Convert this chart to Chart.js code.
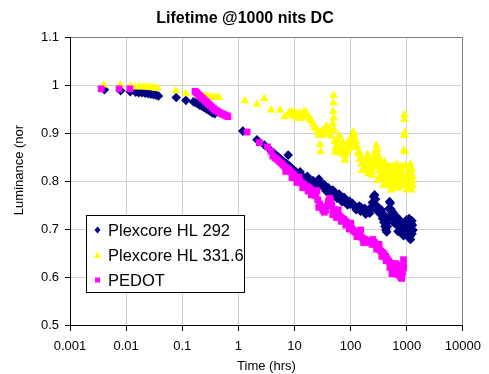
<!DOCTYPE html>
<html>
<head>
<meta charset="utf-8">
<script src="https://cdn.jsdelivr.net/npm/chart.js@4"></script>
<style>
html,body{margin:0;padding:0;background:#fff;}
#wrap{width:489px;height:374px;position:relative;}
</style>
</head>
<body>
<div id="wrap"><canvas id="c"></canvas></div>
<script>
const chartTitle = 'Lifetime @1000 nits DC';
const xAxisTitle = 'Time (hrs)';
const yAxisTitle = 'Luminance (nor';
const seriesNames = ['Plexcore HL 292', 'Plexcore HL 331.6', 'PEDOT'];
const seriesColors = ['#000080', '#FFFF00', '#FF00FF'];
const xTickValues = [0.001, 0.01, 0.1, 1, 10, 100, 1000, 10000];
const xTickLabels = ['0.001', '0.01', '0.1', '1', '10', '100', '1000', '10000'];
const yTickValues = [0.5, 0.6, 0.7, 0.8, 0.9, 1.0, 1.1];
const yTickLabels = ['0.5', '0.6', '0.7', '0.8', '0.9', '1', '1.1'];

// [time (hrs), normalized luminance]
const seriesHL292 = [
[0.0041,0.990],[0.0080,0.988],[0.0118,0.986],[0.0148,0.985],[0.0168,0.984],[0.0192,0.984],[0.0218,0.983],[0.0246,0.982],[0.0276,0.981],[0.0308,0.980],[0.0342,0.979],[0.0376,0.977],
[0.078,0.974],[0.116,0.968],
[0.158,0.965],[0.172,0.963],[0.188,0.961],[0.205,0.958],[0.224,0.956],[0.245,0.953],[0.268,0.950],[0.292,0.948],[0.318,0.945],[0.346,0.942],[0.378,0.940],
[1.20,0.904],[2.14,0.886],[2.90,0.875],[3.80,0.863],[4.25,0.858],[4.70,0.854],[5.15,0.850],[5.60,0.846],[6.10,0.842],[6.60,0.839],[7.15,0.836],[7.70,0.854],[7.75,0.833],[8.35,0.830],[9.0,0.826],[9.7,0.823],[10.4,0.820],[11.2,0.816],[12.1,0.814],[13.0,0.811],[14.0,0.809],[15.1,0.806],[16.3,0.804],[17.6,0.801],[19.0,0.798],[20.5,0.796],[22.1,0.794],[23.8,0.792],[25.6,0.797],[27.2,0.804],[28.8,0.796],[30.6,0.790],[32.9,0.787],[35.4,0.784],[38.1,0.781],[41.0,0.779],[44.1,0.776],[47.5,0.774],[51.1,0.777],[55.0,0.771],[59.2,0.768],[63.7,0.766],[68.6,0.763],[73.8,0.761],[79.4,0.758],[85.5,0.756],[92.0,0.753],[99.0,0.751],
[12.6,0.819],[16.9,0.810],[21.3,0.801],[33.5,0.793],[40.0,0.786],[48.0,0.781],[62.0,0.773],[76.0,0.766],[95.0,0.758],[14.5,0.803],[24.5,0.787],[36.5,0.779],[45.5,0.771],[57.0,0.764],[70.0,0.757],[88.0,0.750],
[106,0.754],[114,0.749],[123,0.746],[132,0.743],[142,0.748],[153,0.745],[165,0.740],[177,0.743],[190,0.738],[204,0.736],[218,0.733],[232,0.741],[244,0.755],[256,0.767],[267,0.771],[278,0.762],[289,0.749],[302,0.738],[318,0.734],[334,0.737],[352,0.730],[370,0.722],[390,0.714],[408,0.705],[424,0.698],[438,0.694],[452,0.705],[466,0.722],[480,0.742],[494,0.757],[508,0.754],[524,0.741],[543,0.731],[565,0.735],[590,0.728],[618,0.720],[648,0.712],[680,0.707],[712,0.715],[745,0.706],[778,0.699],[810,0.694],[842,0.689],[875,0.686],[905,0.694],[935,0.705],[965,0.713],[995,0.719],[1025,0.710],[1055,0.700],[1085,0.690],[1115,0.681],[1145,0.686],[1175,0.698],[1205,0.711],[1235,0.717],[1262,0.708],[1290,0.698],[1165,0.678],[1100,0.722],[1010,0.696],[950,0.688],[880,0.711],[445,0.713],[420,0.723],[600,0.712],[700,0.695],[1240,0.690],
[125,0.740],[150,0.737],[185,0.731],[215,0.742],[350,0.740],[380,0.732],[560,0.722],[640,0.727],[760,0.718],[850,0.702],[960,0.698],[1050,0.715]
];

const seriesHL3316 = [
[0.0040,1.000],[0.0078,1.000],[0.0120,0.998],[0.0148,0.996],[0.0172,0.997],[0.0198,0.996],[0.0226,0.996],[0.0256,0.995],[0.0288,0.995],[0.0322,0.994],[0.0360,0.993],
[0.077,0.988],[0.116,0.982],
[0.19,0.980],[0.215,0.979],[0.245,0.977],[0.275,0.976],[0.31,0.976],[0.35,0.975],[0.395,0.974],[0.45,0.974],
[1.31,0.967],[2.15,0.960],[2.90,0.972],[3.80,0.948],[5.50,0.948],[6.70,0.934],[8.0,0.942],[8.8,0.938],[9.0,0.945],[9.6,0.935],[10.0,0.941],[10.5,0.936],[11.0,0.940],[11.4,0.931],[12.3,0.941],[12.8,0.930],[13.4,0.937],[14.0,0.934],[14.5,0.943],[15.6,0.945],[16.2,0.940],[17.0,0.938],[18.5,0.932],[19.0,0.928],[20.0,0.925],[21.8,0.918],[22.5,0.912],[23.7,0.911],[25.8,0.905],[26.5,0.900],[27.5,0.895],[28.5,0.876],[29.2,0.861],[30.0,0.900],[31.0,0.905],[32.0,0.896],[34.2,0.905],[35.5,0.898],[36.8,0.914],[38.0,0.905],[39.6,0.909],[42.6,0.900],[44.0,0.905],[45.5,0.894],[48.0,0.920],[48.8,0.945],[49.4,0.963],[49.8,0.978],[50.2,0.931],[50.8,0.906],[51.5,0.882],[52.5,0.861],[53.5,0.870],[55.0,0.871],[57.0,0.859],[58.5,0.872],[60.0,0.885],[62.0,0.868],[63.0,0.895],[66.0,0.876],[68.0,0.862],[70.0,0.868],[72.0,0.880],[74.0,0.855],[76.0,0.860],[78.0,0.843],[80.0,0.852],[83.0,0.865],[86.0,0.858],[88.0,0.880],[90.0,0.865],[93.0,0.872],[95.0,0.876],[98.0,0.885],[100,0.870],
[104,0.893],[110,0.880],[112,0.902],[118,0.892],[120,0.870],[125,0.881],[132,0.870],[135,0.858],[140,0.861],[145,0.845],[150,0.852],[155,0.835],[160,0.845],[170,0.838],[175,0.826],[179,0.836],[185,0.830],[190,0.846],[195,0.822],[201,0.855],[210,0.828],[215,0.839],[225,0.845],[230,0.826],[235,0.818],[245,0.831],[250,0.842],[260,0.850],[265,0.830],[274,0.862],[280,0.845],[286,0.874],[295,0.835],[300,0.865],[315,0.852],[320,0.822],[331,0.841],[340,0.812],[350,0.830],[360,0.805],[370,0.820],[375,0.832],[390,0.811],[410,0.806],[420,0.798],[430,0.815],[440,0.830],[452,0.825],[470,0.800],[476,0.818],[490,0.830],[502,0.805],[515,0.795],[527,0.781],[540,0.815],[550,0.795],[570,0.800],[580,0.808],[600,0.812],[610,0.822],[630,0.800],[642,0.815],[650,0.825],[680,0.805],[700,0.815],[720,0.800],[740,0.795],[760,0.812],[780,0.830],[800,0.825],[820,0.800],[838,0.815],[850,0.790],[870,0.830],[880,0.805],[888,0.864],[898,0.895],[905,0.928],[910,0.938],[918,0.901],[930,0.795],[935,0.861],[958,0.831],[970,0.805],[988,0.812],[1020,0.800],[1052,0.790],[1060,0.812],[1090,0.786],[1120,0.808],[1130,0.795],[1170,0.806],[1180,0.790],[1210,0.815],[1230,0.825],[1248,0.800],[1265,0.810],[1273,0.790],[1000,0.782],[1100,0.822],[1200,0.781],[380,0.791],[460,0.790],[620,0.790],[700,0.785],[300,0.801],[205,0.815],[160,0.822],[240,0.812],[560,0.830],[660,0.835],[400,0.840],[1150,0.835]
];

const seriesPEDOT = [
[0.0036,0.992],[0.0075,0.992],[0.0117,0.992],
[0.169,0.987],[0.180,0.984],[0.191,0.981],[0.203,0.978],[0.216,0.975],[0.230,0.972],[0.245,0.969],[0.261,0.966],[0.278,0.963],[0.296,0.960],[0.316,0.957],[0.337,0.954],[0.360,0.951],[0.385,0.948],[0.412,0.946],[0.441,0.944],[0.472,0.942],[0.505,0.940],[0.54,0.939],[0.58,0.937],[0.62,0.936],[0.65,0.934],
[1.43,0.902],[2.36,0.880],[3.30,0.871],[3.80,0.862],[4.10,0.852],[4.50,0.848],[4.90,0.845],[5.30,0.841],[5.80,0.837],[6.30,0.833],[6.80,0.829],[7.40,0.826],[8.00,0.823],[8.60,0.819],[9.30,0.815],[10.0,0.811],[10.8,0.806],[11.6,0.802],[12.5,0.799],[13.5,0.796],[14.5,0.793],[15.6,0.790],[16.8,0.788],[18.0,0.786],[19.4,0.783],[21.0,0.779],[22.5,0.775],[24.0,0.769],[26.0,0.761],[28.0,0.752],[30.0,0.745],[32.0,0.739],[34.0,0.735],[36.0,0.740],[38.0,0.748],[40.0,0.757],[42.0,0.764],[44.0,0.760],[46.0,0.750],[49.0,0.741],[52.0,0.735],[55.0,0.733],[58.0,0.731],[62.0,0.728],[66.0,0.725],[70.0,0.722],[75.0,0.720],[80.0,0.717],[85.0,0.714],[91.0,0.710],[97.0,0.706],
[7.0,0.820],[9.0,0.807],[11.0,0.797],[14.0,0.786],[17.5,0.779],[20.0,0.771],[27.0,0.745],[48.0,0.730],[56.0,0.724],[68.0,0.716],[82.0,0.708],[95.0,0.700],
[104,0.701],[111,0.697],[119,0.694],[127,0.692],[136,0.689],[145,0.686],[155,0.683],[166,0.680],[178,0.678],[190,0.675],[203,0.673],[217,0.672],[232,0.676],[248,0.678],[265,0.672],[283,0.667],[302,0.662],[323,0.658],[345,0.654],[369,0.651],[394,0.648],[420,0.643],[448,0.638],[478,0.633],[510,0.628],[540,0.622],[570,0.615],[600,0.620],[630,0.628],[660,0.625],[690,0.615],[720,0.608],[750,0.604],[780,0.600],[810,0.597],[840,0.610],[860,0.625],[875,0.636],[882,0.620],[545,0.607],[560,0.612],[320,0.668],[150,0.698],[100,0.712],[60,0.740],[25,0.780],[12,0.808],
[130,0.684],[170,0.672],[240,0.668],[290,0.658],[360,0.643],[430,0.634],[500,0.620],[620,0.612],[700,0.605]
];

const FONT = 'Arial, "Liberation Sans", sans-serif';
const toPts = arr => arr.map(p => ({x: p[0], y: p[1]}));
const pointStyles = ['rectRot', 'triangle', 'rect'];
const pointRadii = [4.8, 5, 4.8];

const overlay = {
  id: 'overlay',
  afterDraw(chart) {
    const ctx = chart.ctx;
    ctx.save();
    ctx.fillStyle = '#000';
    ctx.font = 'bold 16px ' + FONT;
    ctx.textAlign = 'center';
    ctx.textBaseline = 'middle';
    ctx.fillText(chartTitle, 245, 19);
    ctx.save();
    ctx.translate(19, 170);
    ctx.rotate(-Math.PI / 2);
    ctx.font = '13px ' + FONT;
    ctx.fillText(yAxisTitle, 0, 0);
    ctx.restore();
    const bx = 86.5, by = 215.5, bw = 158, bh = 77;
    ctx.fillStyle = '#fff';
    ctx.fillRect(bx, by, bw, bh);
    ctx.strokeStyle = '#000';
    ctx.lineWidth = 1;
    ctx.strokeRect(bx, by, bw, bh);
    const rows = [230, 255, 280];
    ctx.font = '16.5px ' + FONT;
    ctx.textAlign = 'left';
    for (let i = 0; i < 3; i++) {
      ctx.fillStyle = seriesColors[i];
      ctx.beginPath();
      const mx = 97.5, my = rows[i];
      if (i === 0) {
        ctx.moveTo(mx, my - 3.5); ctx.lineTo(mx + 3, my); ctx.lineTo(mx, my + 3.5); ctx.lineTo(mx - 3, my);
      } else if (i === 1) {
        ctx.moveTo(mx, my - 3.5); ctx.lineTo(mx + 3.5, my + 3); ctx.lineTo(mx - 3.5, my + 3);
      } else {
        ctx.rect(mx - 2.5, my - 2.5, 5, 5);
      }
      ctx.closePath();
      ctx.fill();
      ctx.fillStyle = '#000';
      ctx.fillText(seriesNames[i], 108, rows[i] + 1);
    }
    ctx.restore();
  }
};

const datasets = [seriesHL292, seriesHL3316, seriesPEDOT].map((s, i) => ({
  label: seriesNames[i],
  data: toPts(s),
  pointStyle: pointStyles[i],
  pointRadius: pointRadii[i],
  pointBackgroundColor: seriesColors[i],
  pointBorderColor: seriesColors[i],
  pointBorderWidth: 0,
  showLine: false,
  order: 2 - i
}));

new Chart(document.getElementById('c'), {
  type: 'scatter',
  data: { datasets },
  options: {
    responsive: true,
    maintainAspectRatio: false,
    animation: false,
    devicePixelRatio: 1,
    layout: { padding: { left: 0, right: 22, top: 37, bottom: 0 } },
    plugins: { legend: { display: false }, tooltip: { enabled: false }, title: { display: false } },
    scales: {
      x: {
        type: 'logarithmic',
        min: 0.001, max: 10000,
        afterBuildTicks: s => { s.ticks = xTickValues.map(v => ({ value: v })); },
        afterFit: s => { s.height = 49; },
        ticks: {
          color: '#000', font: { family: FONT, size: 13 }, padding: 8, maxRotation: 0, autoSkip: false,
          callback: (v) => { const i = xTickValues.findIndex(t => Math.abs(t - v) / t < 1e-6); return i >= 0 ? xTickLabels[i] : ''; }
        },
        grid: {
          color: c => (c.tick && c.tick.value === 10000) ? '#808080' : '#d0d0d0',
          tickColor: '#000', tickLength: 6, lineWidth: 1
        },
        border: { color: '#000', width: 1 },
        title: { display: true, text: xAxisTitle, color: '#000', font: { family: FONT, size: 13 }, padding: { top: 0, bottom: 0 } }
      },
      y: {
        type: 'linear',
        min: 0.5, max: 1.1,
        afterBuildTicks: s => { s.ticks = yTickValues.map(v => ({ value: v })); },
        afterFit: s => { s.width = 70; },
        ticks: {
          color: '#000', font: { family: FONT, size: 13 }, padding: 6,
          callback: (v) => { const i = yTickValues.findIndex(t => Math.abs(t - v) < 1e-6); return i >= 0 ? yTickLabels[i] : ''; }
        },
        grid: {
          color: c => (c.tick && Math.abs(c.tick.value - 1.1) < 1e-6) ? '#808080' : '#d0d0d0',
          tickColor: '#000', tickLength: 5, lineWidth: 1
        },
        border: { color: '#000', width: 1 }
      }
    }
  },
  plugins: [overlay]
});
</script>
</body>
</html>
